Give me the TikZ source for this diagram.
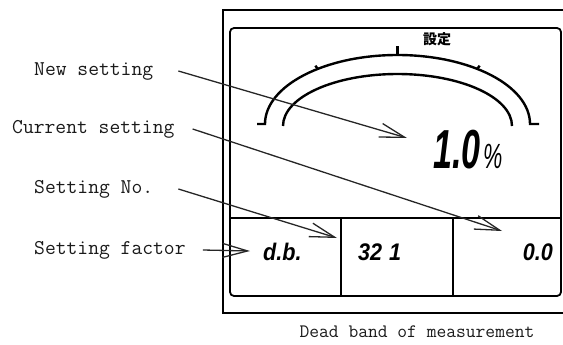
\documentclass[tikz,border=0pt]{standalone}
\usepackage{fontspec}
\usetikzlibrary{positioning, arrows.meta, calc}
\newfontfamily\segfont{Liberation Sans}[FakeStretch=0.9]
\newfontfamily\bigsegfont{Liberation Sans}[FakeStretch=0.62]
\newfontfamily\jpfont{Noto Sans CJK JP}
\definecolor{lineMain}{HTML}{000000}
\definecolor{textMain}{HTML}{1A1A1A}
\definecolor{arrowColor}{HTML}{262626}
\tikzset{
  frame/.style={draw=lineMain, line width=2.2pt},
  panel/.style={draw=lineMain, line width=1.8pt, rounded corners=4pt},
  divider/.style={draw=lineMain, line width=1.4pt},
  scalearc/.style={draw=lineMain, line width=2.4pt, line join=miter},
  tickmark/.style={draw=lineMain, line width=2.4pt},
  callout/.style={font=\fontsize{21}{21}\selectfont\ttfamily, text=textMain,
    inner sep=0pt, anchor=west},
  caption/.style={font=\fontsize{19}{19}\selectfont\ttfamily, text=textMain,
    inner sep=0pt},
  lcdsmall/.style={font=\fontsize{24}{24}\selectfont\segfont\bfseries\itshape,
    inner sep=0pt},
  lcdbig/.style={font=\fontsize{55}{55}\selectfont\bigsegfont\bfseries\itshape,
    inner sep=0pt},
  lcdunit/.style={font=\fontsize{35}{35}\selectfont\bigsegfont\itshape,
    inner sep=0pt},
  stdarrow/.style={-{Straight Barb[length=25pt, width=14pt]}, line width=1.3pt,
    color=arrowColor},
}

\begin{document}
\begin{tikzpicture}[x=1pt, y=-1pt]
  \useasboundingbox (0,0) rectangle (563,345);

  % === Instrument face ===
  \draw[frame] (223,10) rectangle (585,313);
  \draw[panel] (230,28) rectangle (561,296);
  \draw[divider] (230,218) -- (561,218);
  \draw[divider] (341,218) -- (341,296);
  \draw[divider] (453,218) -- (453,296);

  % === Scale arcs and ticks ===
  \coordinate (arcC) at (397.5,124);
  \draw[scalearc] (257,124) -- (265,124)
    arc[start angle=180, end angle=0, x radius=132.5pt, y radius=69pt] -- (539,124);
  \draw[scalearc] (283,126)
    arc[start angle=180, end angle=0, x radius=114.5pt, y radius=52pt];
  \foreach \a/\len in {90/9pt, 127/4pt, 53/4pt} {
    \draw[tickmark] ($(arcC)+(\a:132.5pt and 69pt)$) -- ++(\a:\len);
  }
  \node[font={\fontsize{14}{14}\selectfont\jpfont\bfseries}, inner sep=0pt] (jp) at (437,39) {設定};

  % === LCD values ===
  \node[lcdbig, anchor=base west] (big) at (433,168) {1.0};
  \node[lcdunit, anchor=base west, xshift=2pt] (pct) at (big.base east) {\%};
  \node[lcdsmall, anchor=base west] (db) at (263,260) {d.b.};
  \node[lcdsmall, anchor=base west] (no) at (358,260) {32\kern7pt 1};
  \node[lcdsmall, anchor=base east] (cur) at (553,260) {0.0};

  % === Callouts ===
  \node[callout] (newlbl) at (34,71) {New setting};
  \node[callout] (curlbl) at (12,129) {Current setting};
  \node[callout] (nolbl) at (34,189) {Setting No.};
  \node[callout] (factlbl) at (34,250) {Setting factor};
  \node[caption] (deadlbl) at (417,332) {Dead band of measurement};

  \coordinate (newTip) at (407,138);
  \coordinate (curTip) at (502,231);
  \coordinate (noTip) at (337,238);
  \coordinate (factTip) at (250,251);

  \foreach \lbl/\gap/\tip in {newlbl/25pt/newTip, curlbl/18pt/curTip,
                              nolbl/25pt/noTip, factlbl/17pt/factTip} {
    \draw[stdarrow] ([xshift=\gap]\lbl.east) -- (\tip);
  }

\end{tikzpicture}
\end{document}
